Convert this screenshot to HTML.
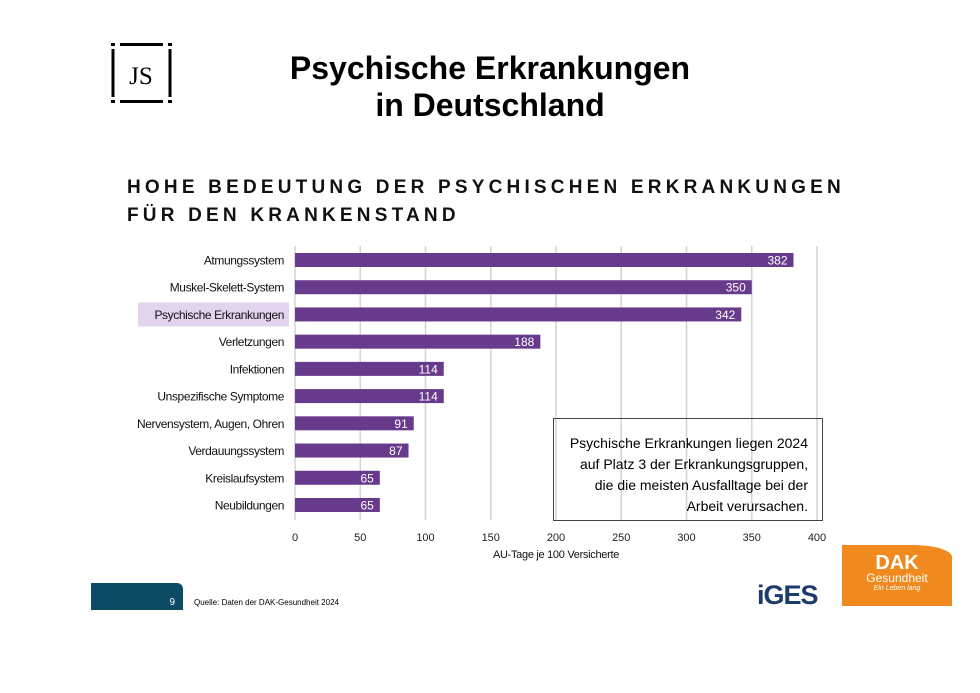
<!DOCTYPE html>
<html><head><meta charset="utf-8"><style>
body{margin:0;width:980px;height:693px;background:#fff;position:relative;overflow:hidden;font-family:"Liberation Sans",sans-serif}
.abs{position:absolute}
</style></head><body>
<div class="abs" style="left:111px;top:43px;width:61px;height:60px">
<svg width="61" height="60"><g stroke="#000" stroke-width="3" fill="none">
<line x1="2" y1="6" x2="2" y2="54"/><line x1="59" y1="6" x2="59" y2="54"/>
<line x1="9" y1="1.5" x2="52" y2="1.5"/><line x1="9" y1="58.5" x2="52" y2="58.5"/></g>
<g fill="#000"><rect x="0" y="0" width="4" height="3"/><rect x="57" y="0" width="4" height="3"/><rect x="0" y="57" width="4" height="3"/><rect x="57" y="57" width="4" height="3"/></g>
<text x="30" y="41" text-anchor="middle" font-family="Liberation Serif" font-size="25">JS</text></svg></div>
<div class="abs" style="left:190px;top:50px;width:600px;text-align:center;font-weight:bold;font-size:32px;line-height:37px">Psychische Erkrankungen<br>in Deutschland</div>
<div class="abs" style="left:127px;top:174px;font-weight:bold;font-size:19px;letter-spacing:4.2px;line-height:28px;color:#111">HOHE BEDEUTUNG DER PSYCHISCHEN ERKRANKUNGEN<br>FÜR DEN KRANKENSTAND</div>
<svg class="abs" style="left:0;top:0" width="980" height="693" id="chart"></svg>
<div class="abs" style="left:553px;top:418px;width:270px;height:103px;border:1.5px solid #444;box-sizing:border-box;text-align:right;padding:14px 14px 0 0;font-size:14px;line-height:21px">Psychische Erkrankungen liegen 2024<br>auf Platz 3 der Erkrankungsgruppen,<br>die die meisten Ausfalltage bei der<br>Arbeit verursachen.</div>
<div class="abs" style="left:91px;top:583px;width:92px;height:27px;background:#0d4a64;border-top-right-radius:6px;color:#fff;font-size:10px;text-align:right;box-sizing:border-box;padding:14px 8px 0 0">9</div>
<div class="abs" style="left:194px;top:598px;font-size:8px">Quelle: Daten der DAK-Gesundheit 2024</div>
<div class="abs" style="left:757px;top:580px;font-weight:bold;font-size:27px;color:#1c3a6b;letter-spacing:-1px">iGES</div>
<div class="abs" style="left:842px;top:545px;width:110px;height:61px;background:#f08a1e;border-top-right-radius:40px 12px;color:#fff;text-align:center">
<div style="font-weight:bold;font-size:20px;margin-top:9px;line-height:18px">DAK</div><div style="font-size:12px;line-height:13px">Gesundheit</div><div style="font-size:7px;font-style:italic">Ein Leben lang</div></div>
<script>
const categories=["Atmungssystem","Muskel-Skelett-System","Psychische Erkrankungen","Verletzungen","Infektionen","Unspezifische Symptome","Nervensystem, Augen, Ohren","Verdauungssystem","Kreislaufsystem","Neubildungen"];
const values=[382,350,342,188,114,114,91,87,65,65];
const ticks=[0,50,100,150,200,250,300,350,400];
const svg=document.getElementById('chart');const NS='http://www.w3.org/2000/svg';
const x=v=>295+v*(522/400);const y=i=>260+i*27.22;
function mk(t,a){const e=document.createElementNS(NS,t);for(const k in a)e.setAttribute(k,a[k]);svg.appendChild(e);return e;}
ticks.forEach(t=>{const g=mk('line',{x1:x(t),x2:x(t),y1:246,y2:520,stroke:'#d4d4d4','stroke-width':1.5});


const l=mk('text',{x:x(t),y:541,'text-anchor':'middle','font-size':11,fill:'#222'});l.textContent=t;

});
const hl=mk('rect',{x:138,y:y(2)-12,width:151,height:24,fill:'#e2d3ee'});


categories.forEach((c,i)=>{const b=mk('rect',{x:x(0),y:y(i)-7,width:x(values[i])-x(0),height:14,fill:'#673a8c'});


const v=mk('text',{x:x(values[i])-6,y:y(i)+4.5,'text-anchor':'end','font-size':12,fill:'#fff'});v.textContent=values[i];


const l=mk('text',{x:284,y:y(i)+4.5,'text-anchor':'end','font-size':12,'letter-spacing':'-0.4',fill:'#111'});l.textContent=c;

});
const at=mk('text',{x:556,y:558,'text-anchor':'middle','font-size':11,'letter-spacing':'-0.3',fill:'#111'});at.textContent='AU-Tage je 100 Versicherte';


</script>
</body></html>
